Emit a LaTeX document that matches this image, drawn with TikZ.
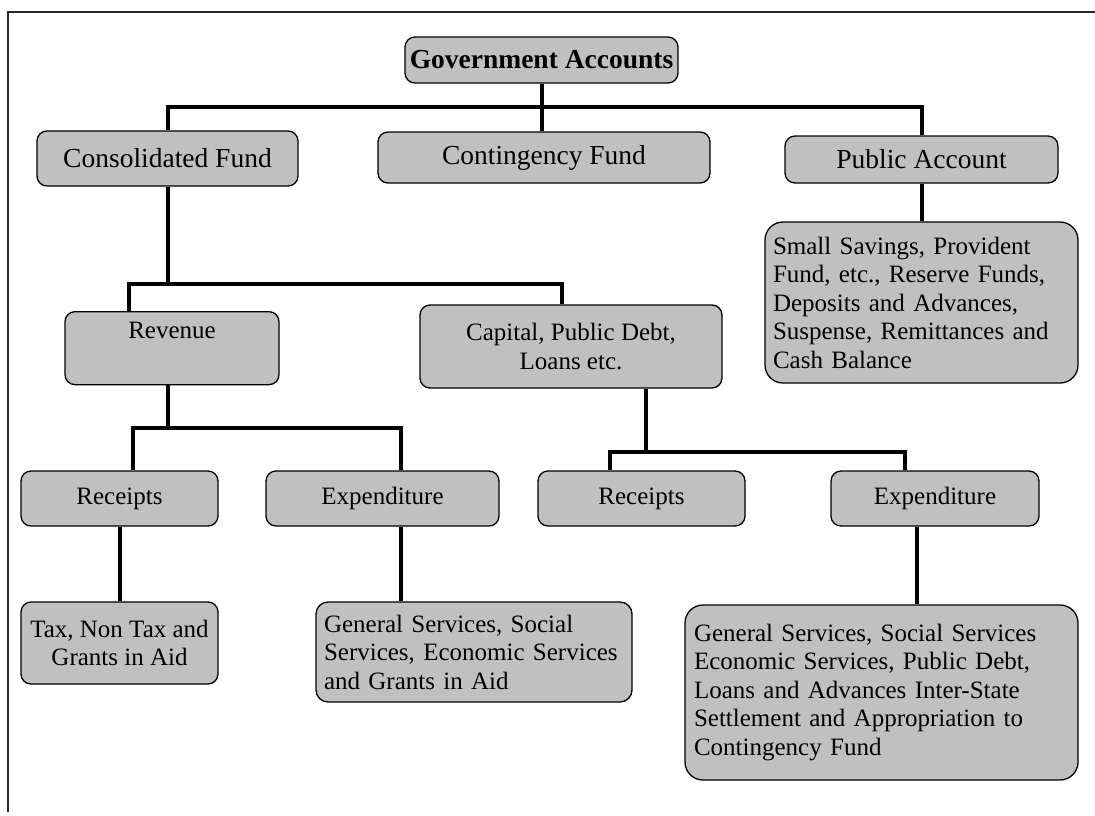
\documentclass[tikz,border=0pt]{standalone}
\usepackage{fontspec}
\setmainfont{Liberation Serif}
\definecolor{boxgray}{HTML}{C0C0C0}
\tikzset{
  box/.style={draw, line width=1.3pt, fill=boxgray, rounded corners=10pt,
    font=\fontsize{25}{28.5}\selectfont, inner sep=3pt, align=center},
  fund/.style={box, font=\fontsize{27.5}{31}\selectfont},
  listbox/.style={box, rounded corners=18pt, align=left, inner xsep=8pt},
  link/.style={line width=4pt},
}
\begin{document}
\begin{tikzpicture}[x=1pt,y=-1pt]
\useasboundingbox (0,0) rectangle (1095,815);
\draw[line width=1.5pt,black!85] (7,12) -- (1095,12) (8,12) -- (8,812);

% first level
\node[fund, font=\fontsize{27.5}{31}\selectfont\bfseries,
      minimum width=273pt, minimum height=46pt] (ga)   at (541.5,60)  {Government Accounts};
\node[fund, minimum width=261pt, minimum height=55pt] (cons) at (167.5,158.5) {Consolidated Fund};
\node[fund, minimum width=332pt, minimum height=51pt] (cont) at (544,157.5)   {Contingency Fund};
\node[fund, minimum width=273pt, minimum height=47pt] (pub)  at (921.5,159.5) {Public Account};
\node[listbox, minimum width=313pt, minimum height=161pt, text width=297pt] (sav) at (921.5,302.5)
  {Small Savings, Provident\\Fund, etc., Reserve Funds,\\Deposits and Advances,\\Suspense, Remittances and\\Cash Balance};

% second level
\node[box, anchor=north, minimum width=214pt, inner ysep=0pt,
      text height=27pt, text depth=46pt] (rev) at (172,311) {Revenue};
\node[box, minimum width=302pt, minimum height=83pt] (cap) at (571,346.5) {Capital, Public Debt,\\Loans etc.};

% third level
\node[box, minimum width=197pt, minimum height=55pt] (lrec) at (119.5,498.5) {Receipts};
\node[box, minimum width=233pt, minimum height=55pt] (lexp) at (382.5,498.5) {Expenditure};
\node[box, minimum width=207pt, minimum height=55pt] (crec) at (641.5,498.5) {Receipts};
\node[box, minimum width=208pt, minimum height=55pt] (cexp) at (935,498.5)   {Expenditure};

% details
\node[box, minimum width=197pt, minimum height=82pt] (tax) at (119.5,643) {Tax, Non Tax and\\Grants in Aid};
\node[listbox, rounded corners=12pt, minimum width=316pt, minimum height=100pt, text width=300pt] (gsa) at (474,652)
  {General Services, Social\\Services, Economic Services\\and Grants in Aid};
\node[listbox, inner xsep=9pt, minimum width=393pt, minimum height=175pt, text width=375pt] (gsb) at (881.5,692.5)
  {General Services, Social Services\\Economic Services, Public Debt,\\Loans and Advances Inter-State\\Settlement and Appropriation to\\Contingency Fund};

% connectors
\draw[link] (ga.south) -- (ga.south |- cont.north);
\draw[link] (cons.north) -- ++(0,-23) -| (pub.north);
\draw[link] (pub.south) -- (sav.north);

\draw[link] (cons.south) -- ++(0,97) coordinate (cb);
\draw[link] ([xshift=-43pt]rev.north) |- (cb) -| ([xshift=-9pt]cap.north);

\draw[link] ([xshift=-4pt]rev.south) -- ++(0,43) coordinate (rb);
\draw[link] ([xshift=13.5pt]lrec.north) |- (rb) -| ([xshift=18.5pt]lexp.north);

\draw[link] ([xshift=75pt]cap.south) -- ++(0,63) coordinate (kb);
\draw[link] ([xshift=-31.5pt]crec.north) |- (kb) -| ([xshift=-30pt]cexp.north);

\draw[link] (lrec.south) -- (lrec.south |- tax.north);
\draw[link] ([xshift=18.5pt]lexp.south) -- ([xshift=18.5pt]lexp.south |- gsa.north);
\draw[link] ([xshift=-18pt]cexp.south) -- ([xshift=-18pt]cexp.south |- gsb.north);
\end{tikzpicture}
\end{document}
